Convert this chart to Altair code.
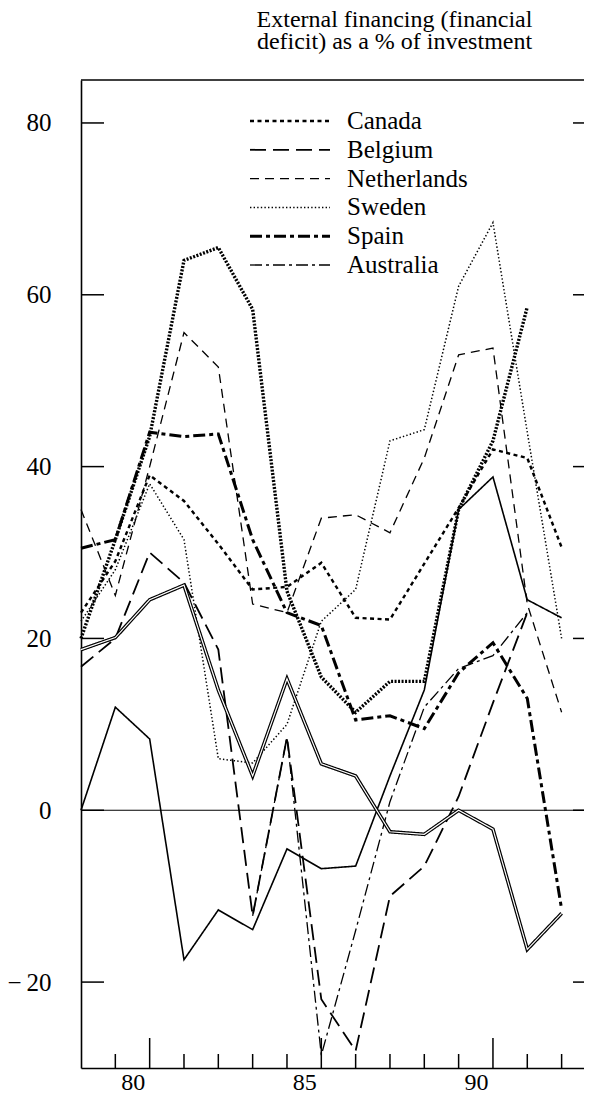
import altair as alt
import pandas as pd

years = list(range(1978, 1993))

canada      = [23, 29, 39, 36, 31, 25.7, 26, 28.8, 22.4, 22.2, 28.7, 35.2, 42, 41, 30.6]
belgium     = [16.7, 20, 30, 26.5, 18.7, -12.3, 8.5, -22, -28, -10, -6.5, 1.6, 12.5, 23, None]
netherlands = [35, 25, 40, 55.6, 51.6, 24, 23, 34, 34.4, 32.3, 41, 53, 53.8, 24, 11.4]
sweden      = [22, 28, 38, 31.5, 6, 5.5, 10, 22, 25.7, 43, 44.3, 61, 68.4, 44, 20]
spain       = [30.5, 31.5, 44, 43.5, 43.8, 31.5, 23, 21.5, 10.5, 11, 9.5, 16, 19.5, 13, -11.5]
australia   = [None, None, None, None, None, -12.3, 8.5, -28.5, -14, 1, 12, 16.5, 18, 23, None]
series_7    = [0, 12, 8.3, -17.4, -11.6, -13.9, -4.5, -6.8, -6.5, 4, 14, 35, 38.8, 24.5, 22.4]
series_8    = [18.7, 20.1, 24.5, 26.2, 14, 4, 15.3, 5.4, 4, -2.5, -2.8, 0, -2.2, -16.2, -12]
series_9    = [20, 31.5, 43.5, 64, 65.5, 58.3, 25.5, 15.5, 11.4, 15, 15, 35, 43, 58.6, None]

series_names = ["Canada", "Belgium", "Netherlands", "Sweden", "Spain", "Australia",
                "Series 7", "Series 8", "Series 9"]
series_values = [canada, belgium, netherlands, sweden, spain, australia,
                 series_7, series_8, series_9]
legend_names = series_names[:6]

y_tick_values = [-20, 0, 20, 40, 60, 80]
x_label_years = [1980, 1985, 1990]
x_minor_years = [1979, 1981, 1982, 1983, 1984, 1986, 1987, 1988, 1989, 1991, 1992]

rows = []
for name, vals in zip(series_names, series_values):
    for yr, v in zip(years, vals):
        if v is not None:
            rows.append({"name": name, "year": yr, "value": v})
df = pd.DataFrame(rows)

dashes = [[4, 3.5], [16, 7], [9, 6], [1.4, 2.2], [12, 4, 4, 4], [12, 4, 3, 4],
          [1, 0], [1, 0], [2, 1.5]]
widths = [2.4, 1.8, 1.3, 1.5, 3.0, 1.3, 1.6, 3.6, 3.4]

W, H = 503, 988
FONT = "Liberation Serif"

xscale = alt.Scale(domain=[1978, 1992.652], nice=False, zero=False)
yscale = alt.Scale(domain=[-30, 85], nice=False, zero=False)
dash_enc = alt.StrokeDash("name:N", scale=alt.Scale(domain=series_names, range=dashes), legend=None)
width_enc = alt.StrokeWidth("name:N", scale=alt.Scale(type="ordinal", domain=series_names, range=widths), legend=None)

lines = alt.Chart(df).mark_line(color="black", strokeCap="butt").encode(
    x=alt.X("year:Q", scale=xscale,
            axis=alt.Axis(values=x_label_years, ticks=False, grid=False, title=None,
                          labelExpr="substring(toString(datum.value), 2)",
                          labelOffset=-17, labelPadding=2, labelFont=FONT,
                          labelFontSize=24, labelColor="black",
                          domainColor="black", domainWidth=1.6)),
    y=alt.Y("value:Q", scale=yscale,
            axis=alt.Axis(values=y_tick_values, ticks=False, grid=False, title=None,
                          labelExpr="datum.value < 0 ? '\u2212\u2009' + abs(datum.value) : datum.label",
                          labelPadding=30, labelFont=FONT, labelFontSize=25,
                          labelColor="black", domainColor="black", domainWidth=1.6)),
    detail="name:N",
    strokeDash=dash_enc,
    strokeWidth=width_enc,
)

inner = alt.Chart(df).transform_filter(alt.datum.name == "Series 8").mark_line(
    color="white", strokeWidth=1.2).encode(
    x=alt.X("year:Q", scale=xscale),
    y=alt.Y("value:Q", scale=yscale, axis=None),
)

zero = alt.Chart(pd.DataFrame({"v": [0]})).mark_rule(color="black", strokeWidth=1.2).encode(
    y=alt.Y("v:Q", scale=yscale, axis=None))

ytick_df = pd.DataFrame({"v": y_tick_values})
left_ticks = alt.Chart(ytick_df).mark_rule(color="black", strokeWidth=1.5).encode(
    y=alt.Y("v:Q", scale=yscale, axis=None), x=alt.value(0), x2=alt.value(23))
right_ticks = alt.Chart(ytick_df).mark_rule(color="black", strokeWidth=1.5).encode(
    y=alt.Y("v:Q", scale=yscale, axis=None), x=alt.value(W - 11), x2=alt.value(W))

major_ticks = alt.Chart(pd.DataFrame({"yr": x_label_years})).mark_rule(color="black", strokeWidth=1.5).encode(
    x=alt.X("yr:Q", scale=xscale), y=alt.value(H), y2=alt.value(H - 30))
minor_ticks = alt.Chart(pd.DataFrame({"yr": x_minor_years})).mark_rule(color="black", strokeWidth=1.5).encode(
    x=alt.X("yr:Q", scale=xscale), y=alt.value(H), y2=alt.value(H - 14))

top_line = alt.Chart(pd.DataFrame({"v": [0]})).mark_rule(color="black", strokeWidth=1.5).encode(
    x=alt.value(0), x2=alt.value(W), y=alt.value(0))

legend_df = pd.DataFrame({"name": legend_names, "row": list(range(len(legend_names)))})
leg_y = alt.Y("row:Q", scale=alt.Scale(domain=[0, 5], range=[41, 185]), axis=None)
legend_lines = alt.Chart(legend_df).mark_rule(color="black", strokeCap="butt").encode(
    x=alt.value(169), x2=alt.value(249), y=leg_y,
    strokeDash=dash_enc, strokeWidth=width_enc)
legend_text = alt.Chart(legend_df).mark_text(
    align="left", baseline="middle", font=FONT, fontSize=25, color="black").encode(
    x=alt.value(266), y=leg_y, text="name:N")

chart = alt.layer(
    zero, left_ticks, right_ticks, major_ticks, minor_ticks, top_line,
    lines, inner, legend_lines, legend_text
).resolve_scale(y="independent").properties(
    width=W, height=H,
    autosize=alt.AutoSizeParams(type="none"),
    padding={"left": 73, "top": 72, "right": 0, "bottom": 25},
    title=alt.TitleParams(
        text=["External financing (financial", "deficit) as a % of investment"],
        font=FONT, fontSize=24, fontWeight="normal", color="black",
        anchor="middle", dx=62, offset=25, lineHeight=22),
    background="white",
).configure_view(stroke=None)

chart.save("out.html", embed_options={"renderer": "svg", "actions": False})
